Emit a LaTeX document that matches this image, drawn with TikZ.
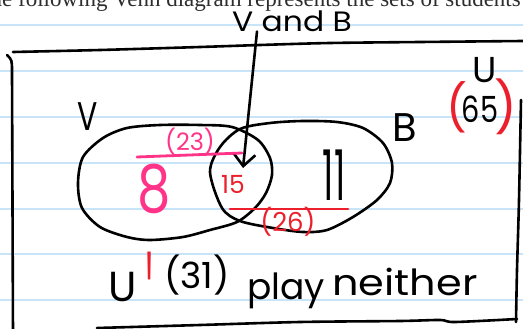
\documentclass[tikz,border=0pt]{standalone}
\usepackage{fontspec}
\setmainfont{Liberation Serif}
\newfontfamily\hand{Poppins}
\usetikzlibrary{arrows.meta}
\definecolor{paperblue}{RGB}{200,228,248}
\definecolor{hotpink}{RGB}{255,51,136}
\definecolor{penred}{RGB}{236,32,44}
\definecolor{printgray}{RGB}{45,45,45}
\newcommand\hsz[1]{\hand\fontsize{#1}{#1}\selectfont}
\begin{document}
\begin{tikzpicture}[x=1pt,y=-1pt,
  rule/.style={paperblue, line width=1.3pt},
  pen/.style={black, line width=2.6pt, line cap=round, line join=round},
  pinkpen/.style={hotpink, line width=2.8pt, line cap=round},
  redpen/.style={penred, line width=2.8pt, line cap=round},
  hw/.style={inner sep=0pt, outer sep=0pt},
  arrowpen/.style={pen, -{Straight Barb[length=12pt,width=22pt,line width=2.6pt]}}
]
\useasboundingbox (0,0) rectangle (523,329);
\clip (0,0) rectangle (523,329);
\fill[white] (0,0) rectangle (523,329);
% notebook rules
\foreach \yy in {25,71,117,163,209,254,300}
  \draw[rule] (0,\yy) -- (523,\yy);
% printed heading (cut off at the top)
\node[anchor=base east, inner sep=0pt, text=printgray, font=\fontsize{23}{23}\selectfont] (title) at (521,7) {The following Venn diagram represents the sets of students};
% universal rectangle
\draw[pen] plot[smooth] coordinates {(13,52) (100,50) (200,47) (260,45) (330,43) (420,42) (523,41)};
\draw[pen] (7,55) .. controls (12,60) .. (12,72) -- (13,335);
\draw[pen] plot[smooth] coordinates {(521,100) (519,200) (517,270) (516,322)};
\draw[pen] plot[smooth] coordinates {(97,328) (200,325) (300,322) (400,321) (440,320) (455,322) (517,319)};
% set V
\draw[pen] plot[smooth cycle] coordinates {(78,183) (83,157) (103,138) (127,128) (160,125) (200,125) (232,127) (258,140) (270,158) (272,175) (266,193) (255,208) (237,222) (210,230) (183,237) (150,240) (127,237) (100,227) (82,208)};
% set B
\draw[pen] plot[smooth cycle] coordinates {(210,172) (220,147) (240,129) (270,123) (303,121) (337,122) (363,128) (383,143) (392,163) (390,183) (377,200) (353,217) (327,230) (303,232) (273,228) (240,221) (222,208)};
% labels
\node[hw, font=\hsz{28}] (vb) at (292,21) {\scalebox{1.12}[1]{V and B}};
\coordinate (tip) at (243,168);
\draw[arrowpen] ([xshift=-35pt]vb.south) -- (tip);
\node[hw, font=\hsz{40}] (vlab) at (88,117) {\scalebox{0.75}[1]{V}};
\node[hw, font=\hsz{40}] (blab) at (405,128) {B};
\node[hw, font=\hsz{36}] (ulab) at (485,70) {U};
\node[hw, font=\hsz{36}] (n65) at (480,109) {\scalebox{0.8}[1]{65}};
\node[hw, font=\hsz{46}, text=penred] (lp) at (457,107) {(};
\node[hw, font=\hsz{50}, text=penred] (rp) at (506,107) {)};
% region values
\draw[pinkpen] (137,157) -- (242,153);
\node[hw, font=\hsz{24}, text=hotpink] (n23) at (190,142) {(23)};
\node[hw, font=\hsz{66}, text=hotpink] (n8) at (154,189) {\scalebox{0.8}[1]{8}};
\node[hw, font=\hsz{25}, text=penred] (n15) at (233,184) {15};
\node[hw, font=\hsz{70}] (n11) at (334,175) {\scalebox{0.5}[1]{11}};
\draw[redpen] (230,209) -- (348,209);
\node[hw, font=\hsz{26}, text=penred] (n26) at (288,222) {(26)};
% complement
\node[hw, font=\hsz{70}, text=penred, anchor=north] (prime) at (150,252) {\scalebox{0.55}[2]{'}};
\node[hw, font=\hsz{42}] (ucomp) at (123,287) {U};
\node[hw, font=\hsz{36}] (n31) at (197,275) {(31)};
\node[hw, font=\hsz{36}] (play) at (286,291) {play};
\node[hw, font=\hsz{36}] (neither) at (405,282) {\scalebox{1.15}[1]{neither}};
\end{tikzpicture}
\end{document}
